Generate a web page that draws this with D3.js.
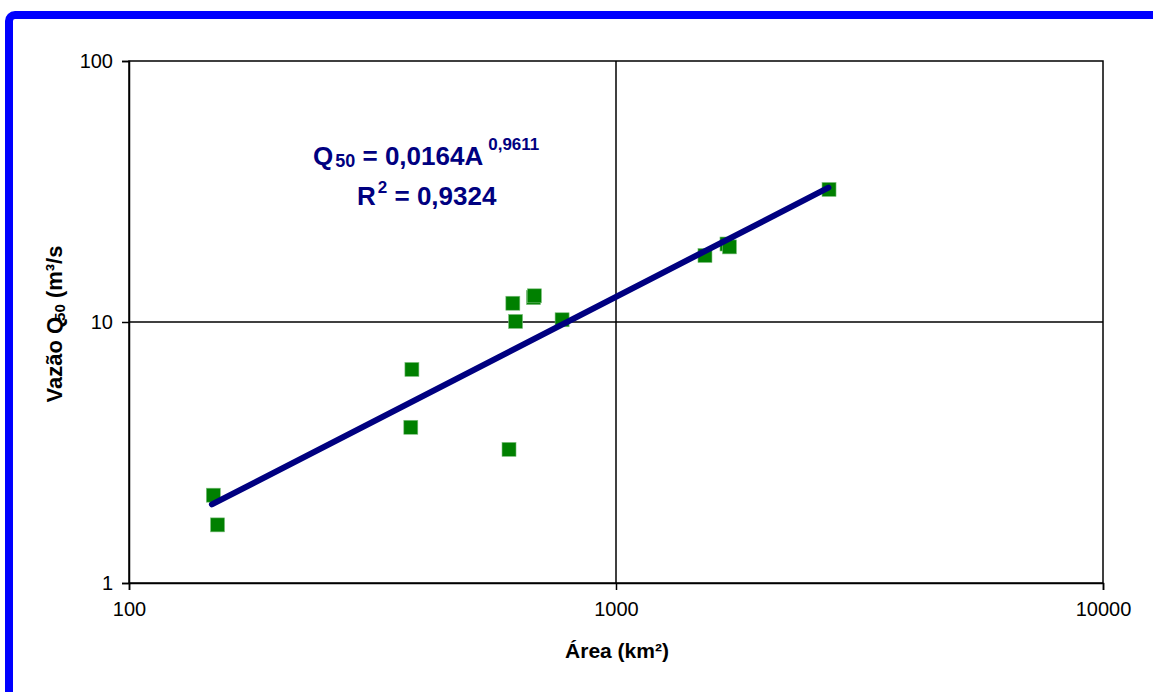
<!DOCTYPE html>
<html>
<head>
<meta charset="utf-8">
<script src="https://cdn.jsdelivr.net/npm/d3@7"></script>
<style>
  html, body { margin: 0; padding: 0; background: #fff; }
  svg { display: block; font-family: Arial, "Liberation Sans", sans-serif; }
</style>
</head>
<body>
<svg id="chart" width="1153" height="692"></svg>
<script>
// ---- data ----
const areas = [149, 152, 381, 379, 603, 614, 677, 680, 622, 775, 1523, 1690, 1710, 2738];
const flows = [2.17, 1.67, 6.58, 3.95, 3.25, 11.8, 12.4, 12.6, 10.05, 10.2, 17.98, 19.9, 19.4, 32.2];
const trendAreas = [148, 2730];
const trendFlows = [2.0, 32.7];
const xTicks = [100, 1000, 10000];
const yTicks = [1, 10, 100];
const xGrid = [1000];
const yGrid = [10];

const svg = d3.select("#chart");
const W = 1153, H = 692;
svg.append("rect").attr("width", W).attr("height", H).attr("fill", "#fff");
// blue frame
svg.append("rect").attr("x", 9).attr("y", 15).attr("width", 1300).attr("height", 900)
  .attr("rx", 6).attr("fill", "none").attr("stroke", "#0000ff").attr("stroke-width", 8);

const L = 129, R = 1103, T = 61, B = 583;
const x = d3.scaleLog().domain([100, 10000]).range([L, R]);
const y = d3.scaleLog().domain([1, 100]).range([B, T]);

// gridlines
svg.selectAll(".gx").data(xGrid).join("line")
  .attr("x1", d => x(d)).attr("x2", d => x(d)).attr("y1", T).attr("y2", B)
  .attr("stroke", "#000").attr("stroke-width", 1.5);
svg.selectAll(".gy").data(yGrid).join("line")
  .attr("y1", d => y(d)).attr("y2", d => y(d)).attr("x1", L).attr("x2", R)
  .attr("stroke", "#000").attr("stroke-width", 1.5);

// plot frame
svg.append("rect").attr("x", L).attr("y", T).attr("width", R - L).attr("height", B - T)
  .attr("fill", "none").attr("stroke", "#000").attr("stroke-width", 1.5);

// axes
const xAxis = d3.axisBottom(x).tickValues(xTicks).tickFormat(d3.format("d")).tickSize(7).tickPadding(12);
const yAxis = d3.axisLeft(y).tickValues(yTicks).tickFormat(d3.format("d")).tickSize(7).tickPadding(9);
const gx = svg.append("g").attr("transform", `translate(0,${B})`).call(xAxis);
const gy = svg.append("g").attr("transform", `translate(${L},0)`).call(yAxis);
[gx, gy].forEach(g => {
  g.select(".domain").attr("stroke", "#000").attr("stroke-width", 1.5);
  g.selectAll(".tick line").attr("stroke", "#000").attr("stroke-width", 1.5);
  g.selectAll(".tick text").attr("font-size", 20).attr("fill", "#000")
    .attr("font-family", "Arial, 'Liberation Sans', sans-serif");
});

// points
const s = 14;
svg.selectAll(".pt").data(areas.map((a, i) => [a, flows[i]])).join("rect")
  .attr("x", d => x(d[0]) - s / 2).attr("y", d => y(d[1]) - s / 2)
  .attr("width", s).attr("height", s).attr("fill", "#008000")
  .attr("stroke", "#7fbf7f").attr("stroke-width", 0.6);

// trend line
const line = d3.line().x(d => x(d[0])).y(d => y(d[1]));
svg.append("path").datum(trendAreas.map((a, i) => [a, trendFlows[i]]))
  .attr("d", line).attr("fill", "none").attr("stroke", "#000080")
  .attr("stroke-width", 6).attr("stroke-linecap", "round");

// equation
const eq = svg.append("text").attr("x", 313).attr("y", 165).attr("fill", "#000080")
  .attr("font-weight", "bold").attr("font-size", 26);
eq.append("tspan").text("Q");
eq.append("tspan").attr("font-size", 18).attr("dx", 2).attr("dy", 2).text("50");
eq.append("tspan").attr("dy", -2).text(" = 0,0164A");
eq.append("tspan").attr("font-size", 17).attr("dx", 5).attr("dy", -15).text("0,9611");

const r2 = svg.append("text").attr("x", 357).attr("y", 205).attr("fill", "#000080")
  .attr("font-weight", "bold").attr("font-size", 26);
r2.append("tspan").text("R");
r2.append("tspan").attr("font-size", 17).attr("dx", 2).attr("dy", -12).text("2");
r2.append("tspan").attr("dy", 12).text(" = 0,9324");

// axis titles
svg.append("text").attr("x", 617).attr("y", 658).attr("text-anchor", "middle")
  .attr("font-weight", "bold").attr("font-size", 21).attr("fill", "#000").text("Área (km²)");

const yt = svg.append("text").attr("transform", "translate(62,324) rotate(-90)")
  .attr("text-anchor", "middle").attr("font-weight", "bold").attr("font-size", 22).attr("fill", "#000");
yt.append("tspan").text("Vazão Q");
yt.append("tspan").attr("font-size", 15).attr("dx", -4).attr("dy", 3).text("50");
yt.append("tspan").attr("dy", -3).text(" (m³/s");
</script>
</body>
</html>
